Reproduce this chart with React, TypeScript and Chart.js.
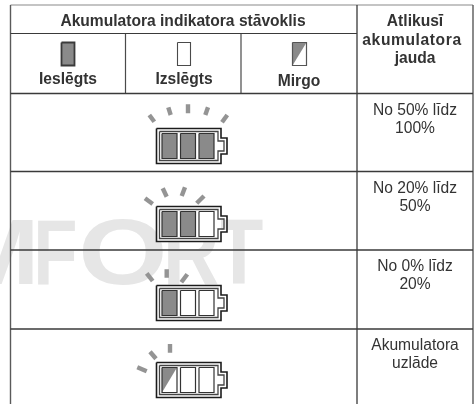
import React, { useEffect, useRef } from "react";
import { Chart, registerables } from "chart.js";

Chart.register(...registerables);

// ---- content ----
const mainHeader = "Akumulatora indikatora stāvoklis";
const sideHeader = ["Atlikusī", "akumulatora", "jauda"];
const stateLabels = ["Ieslēgts", "Izslēgts", "Mirgo"];
const rowLabels = [
  ["No 50% līdz", "100%"],
  ["No 20% līdz", "50%"],
  ["No 0% līdz", "20%"],
  ["Akumulatora", "uzlāde"],
];
const litCells = [3, 2, 1, 0];
const blinkingCells = [0, 0, 0, 1];
const watermark = ["M", "F", "O", "R", "T"];

// ---- layout, in the page's own units ----
type P = [number, number];
const W = 475;
const H = 404;
const colEdges = [10.5, 125.5, 241, 357, 473];
const rowEdges = [5, 33.5, 93.5, 171.5, 250, 329];
const batteryTops = [128, 206, 285, 362];
const watermarkSpans = [[-40, 33], [38, 75], [82, 163], [168, 218], [215, 263]];
const rays: [P, P][][] = [
  [[[149.3, 115], [154.3, 121.7]], [[168.3, 107.3], [170.7, 115]], [[188, 104.3], [188, 113.3]], [[208, 107.3], [205.3, 115]], [[227.3, 115], [222, 122.3]]],
  [[[145, 198.3], [152.7, 204]], [[162.7, 188.3], [166.7, 196.7]], [[185, 187.3], [181.7, 196]], [[204, 196], [196.7, 203.3]]],
  [[[146.7, 273.3], [152.7, 281]], [[166.7, 269.3], [166.7, 277.7]], [[187.3, 274.3], [181.3, 282.3]]],
  [[[170, 344], [170, 352.7]], [[150, 351.7], [156, 358.7]], [[137.3, 367.3], [146.7, 371.3]]],
];
const cellLefts = [162, 180.5, 199];
const FONT = '"Liberation Sans", Arial, sans-serif';
const INK = "#333333";
const GRAY = "#8a8a8a";

function shape(points: P[], stroke: string, width: number, fill?: string) {
  return {
    type: "scatter" as const,
    data: points.map(([x, y]) => ({ x, y })),
    showLine: true,
    pointRadius: 0,
    tension: 0,
    clip: false,
    borderColor: stroke,
    borderWidth: width,
    borderCapStyle: "butt",
    borderJoinStyle: "miter",
    backgroundColor: fill ?? "transparent",
    fill: fill ? "shape" : false,
  };
}
const rect = (x0: number, y0: number, x1: number, y1: number): P[] => [[x0, y0], [x1, y0], [x1, y1], [x0, y1], [x0, y0]];

function buildDatasets() {
  const out: any[] = [];
  const [L, C1, C2, C3, R] = colEdges;
  const [T, H1, H2, R1, R2, R3] = rowEdges;
  // table rules
  out.push(shape([[L, T], [R, T]], "#8a8a8a", 1.2));
  out.push(shape([[L, T], [L, H]], "#5a5a5a", 1.4));
  out.push(shape([[C3, T], [C3, H]], "#3a3a3a", 1.3));
  out.push(shape([[R, T], [R, H]], "#5a5a5a", 1.4));
  out.push(shape([[C1, H1], [C1, H2]], "#4a4a4a", 1.2));
  out.push(shape([[C2, H1], [C2, H2]], "#4a4a4a", 1.2));
  out.push(shape([[L, H1], [C3, H1]], "#3a3a3a", 1.2));
  [H2, R1, R2, R3].forEach((y) => out.push(shape([[L, y], [R, y]], "#3a3a3a", 1.3)));
  // legend swatches
  out.push(shape(rect(61.5, 42.5, 74.5, 65.5), "#3a3a3a", 1.8, GRAY));
  out.push(shape(rect(177.5, 42.5, 190.5, 65.5), "#4a4a4a", 1.1, "#ffffff"));
  out.push(shape(rect(292.5, 42.5, 306.5, 65.5), "transparent", 0, "#ffffff"));
  out.push(shape([[292.5, 42.5], [306.5, 42.5], [292.5, 65.5], [292.5, 42.5]], "transparent", 0, GRAY));
  out.push(shape(rect(292.5, 42.5, 306.5, 65.5), "#555555", 1.2));
  // batteries
  batteryTops.forEach((t, row) => {
    const b = t + 36;
    out.push(shape(rect(156, t, 221, b), "transparent", 0, "#ffffff"));
    out.push(shape([[156.5, t + 0.5], [221, t + 0.5], [221, t + 10], [227, t + 10], [227, t + 26], [221, t + 26], [221, b - 0.5], [156.5, b - 0.5], [156.5, t + 0.5]], "#1c1c1c", 1.6));
    out.push(shape([[159.5, t + 3.5], [218, t + 3.5], [218, t + 13], [224, t + 13], [224, t + 23], [218, t + 23], [218, b - 3.5], [159.5, b - 3.5], [159.5, t + 3.5]], "#444444", 1.3));
    cellLefts.forEach((x, i) => {
      const lit = i < litCells[row];
      const blink = i < blinkingCells[row];
      const box = rect(x, t + 5.5, x + 15, b - 5.5);
      out.push(shape(box, "transparent", 0, lit ? GRAY : "#ffffff"));
      if (blink) out.push(shape([[x, t + 5.5], [x + 15, t + 5.5], [x, b - 5.5], [x, t + 5.5]], "transparent", 0, GRAY));
      out.push(shape(box, "#333333", 1.2));
    });
    rays[row].forEach((r) => out.push(shape(r, "#949494", 4.4)));
  });
  // Chart.js paints the first dataset last
  return out.reverse();
}

const tablePlugin = {
  id: "tableText",
  beforeDatasetsDraw(chart: any) {
    const { ctx, scales } = chart;
    const X = (v: number) => scales.x.getPixelForValue(v);
    const Y = (v: number) => scales.y.getPixelForValue(v);
    ctx.save();
    ctx.fillStyle = "#e6e6e6";
    ctx.font = `bold 92px ${FONT}`;
    ctx.textAlign = "left";
    ctx.textBaseline = "alphabetic";
    watermark.forEach((ch, i) => {
      const [l, r] = watermarkSpans[i];
      const m = ctx.measureText(ch);
      const ink = m.actualBoundingBoxLeft + m.actualBoundingBoxRight;
      const k = (X(r) - X(l)) / ink;
      ctx.save();
      ctx.translate(X(l) + m.actualBoundingBoxLeft * k, Y(283.5));
      ctx.scale(k, 1);
      ctx.fillText(ch, 0, 0);
      ctx.restore();
    });
    ctx.restore();
  },
  afterDatasetsDraw(chart: any) {
    const { ctx, scales } = chart;
    const X = (v: number) => scales.x.getPixelForValue(v);
    const Y = (v: number) => scales.y.getPixelForValue(v);
    const put = (s: string, x: number, y: number, bold: boolean, spacing = "0px") => {
      ctx.font = `${bold ? "bold " : ""}15.6px ${FONT}`;
      ctx.letterSpacing = spacing;
      ctx.fillText(s, X(x), Y(y));
    };
    ctx.save();
    ctx.fillStyle = INK;
    ctx.textAlign = "center";
    ctx.textBaseline = "middle";
    put(mainHeader, 183, 22, true);
    sideHeader.forEach((s, i) => put(s, i === 1 ? 412 : 415, 22 + i * 18.5, true, i === 1 ? "0.6px" : "0px"));
    const stateX = [68, 184, 299];
    const stateY = [80, 80, 82];
    stateLabels.forEach((s, i) => put(s, stateX[i], stateY[i], true));
    const rowY = [111, 189, 267, 346];
    rowLabels.forEach((lines, r) => lines.forEach((s, i) => put(s, 415, rowY[r] + i * 18, false)));
    ctx.restore();
  },
};

export default function App() {
  const ref = useRef<HTMLCanvasElement>(null);
  useEffect(() => {
    const chart = new Chart(ref.current!, {
      type: "scatter",
      data: { datasets: buildDatasets() },
      options: {
        animation: false,
        responsive: false,
        events: [],
        layout: { padding: 0 },
        plugins: { legend: { display: false }, tooltip: { enabled: false }, title: { display: false } },
        scales: {
          x: { type: "linear", min: 0, max: W, display: false },
          y: { type: "linear", min: 0, max: H, reverse: true, display: false },
        },
      },
      plugins: [tablePlugin],
    } as any);
    return () => chart.destroy();
  }, []);
  return (
    <canvas
      ref={ref}
      width={W}
      height={H}
      style={{ position: "absolute", left: 0, top: 0, width: W, height: H, display: "block" }}
    />
  );
}
